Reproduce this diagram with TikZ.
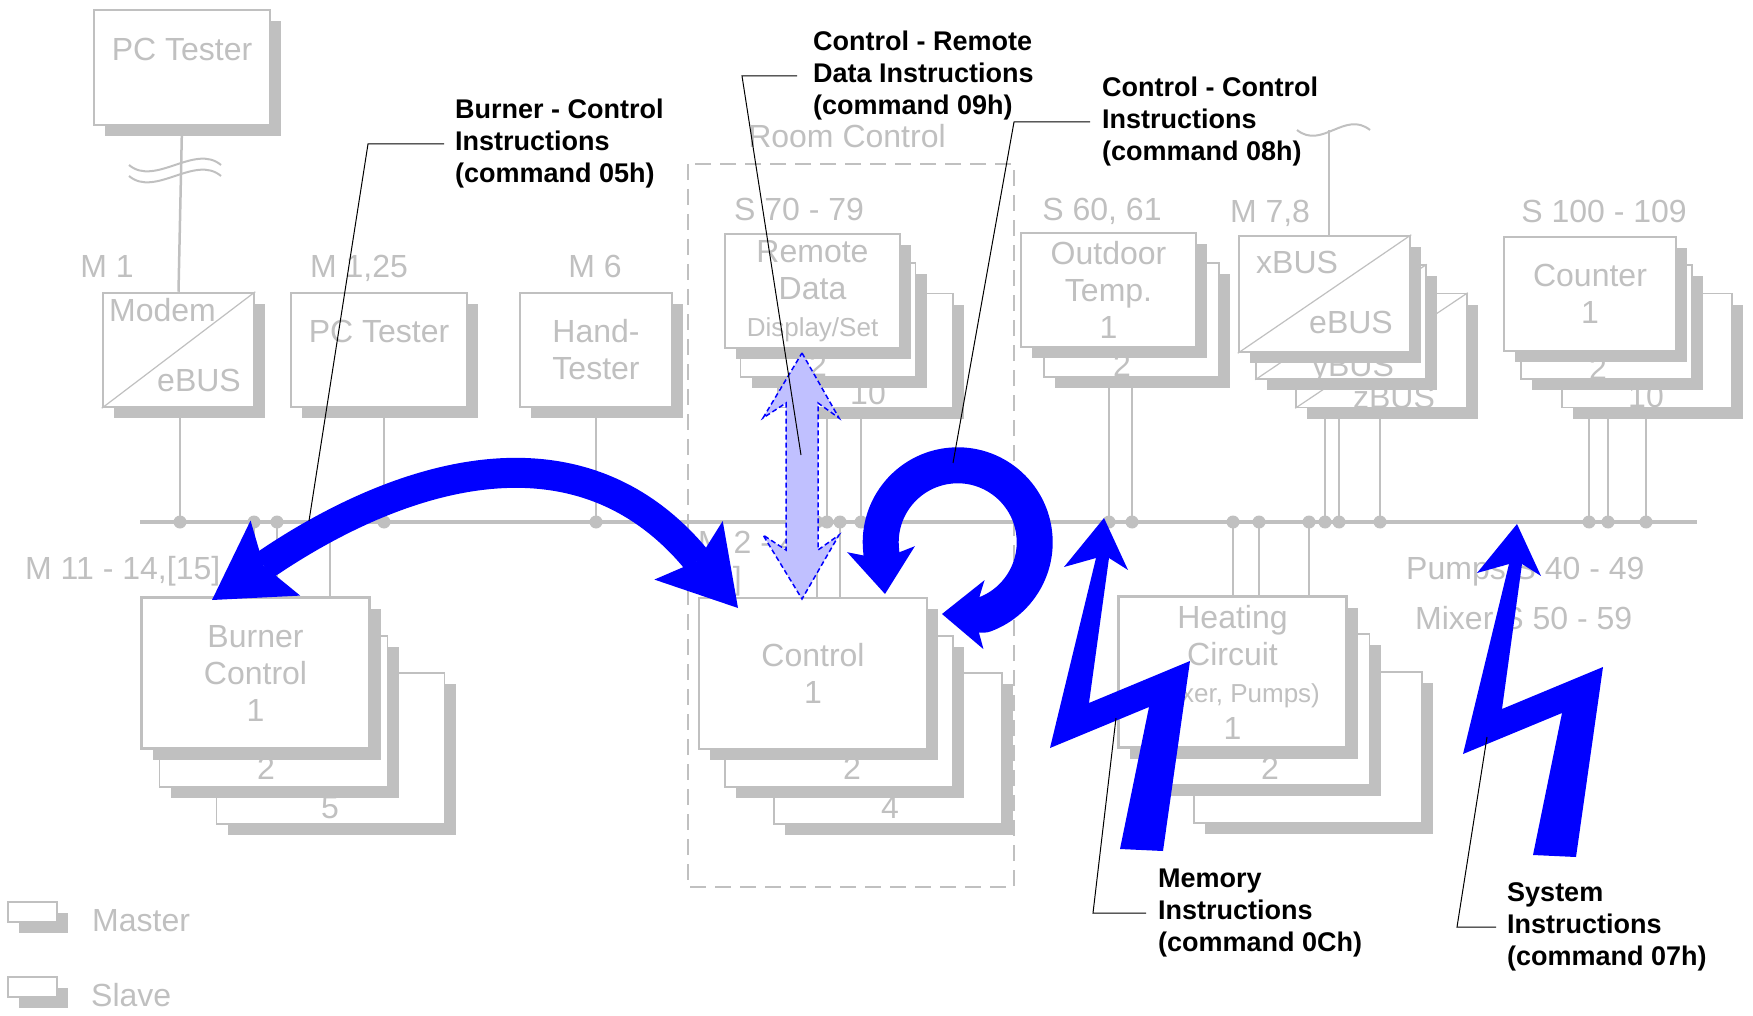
\documentclass[tikz,border=0pt]{standalone}
\usepackage{fontspec}
\setmainfont{Liberation Sans}
\usetikzlibrary{arrows.meta,shadows,backgrounds}
\definecolor{busgrey}{RGB}{192,192,192}
\definecolor{pureblue}{RGB}{0,0,255}
\definecolor{paleblue}{RGB}{192,192,255}
\newcommand\smallline{\fontsize{26}{37}\selectfont}

\begin{document}
\begin{tikzpicture}[x=1pt,y=-1pt]
    \tikzset{
        busunit/.style={draw=busgrey, line width=2.5pt, fill=white, inner sep=0pt,
            text=busgrey, align=center, font=\fontsize{32}{37}\selectfont,
            drop shadow={shadow xshift=11pt, shadow yshift=-11pt, fill=busgrey, opacity=1}},
        topunit/.style={busunit, minimum width=175pt, minimum height=114pt},
        lowunit/.style={busunit, minimum width=228pt, minimum height=151pt},
        thinframe/.style={line width=1.5pt},
        greytext/.style={text=busgrey, inner sep=0pt, font=\fontsize{32}{37}\selectfont},
        diag/.style={draw=busgrey, line width=1.2pt},
        tap/.style={draw=busgrey, line width=2.5pt},
        wave/.style={draw=busgrey, line width=2pt},
        roombox/.style={draw=busgrey, line width=2.5pt, dash pattern=on 16pt off 9pt},
        note/.style={align=left, inner sep=0pt, font=\fontsize{27}{32}\selectfont\bfseries},
        leader/.style={draw=black, line width=1pt},
        bigarrow/.style={draw=pureblue, line width=30pt,
            {Stealth[length=76pt,width=90pt,inset=14pt,line width=0pt]}-{Stealth[length=76pt,width=90pt,inset=14pt,line width=0pt]}},
        ringarrow/.style={draw=pureblue, line width=36pt, line join=round,
            {Stealth[length=45pt,width=68pt,inset=10pt,line width=0pt]}-{Stealth[length=42pt,width=69pt,inset=10pt,line width=0pt]}},
        ghost/.style={draw=pureblue, fill=paleblue, line width=1.5pt, dash pattern=on 5pt off 3pt},
        bolt/.style={fill=pureblue}
    }
    \useasboundingbox (0,0) rectangle (1753,1016);

    % top row
    \node[topunit, minimum width=176pt, minimum height=115pt] (pctop) at (182,67.5) {PC Tester\\\mbox{}};
    \node[topunit, minimum width=151pt] (modem) at (178.5,350) {};
    \draw[diag] (modem.south west) -- (modem.north east);
    \node[greytext, anchor=base west] (modemtop) at (109,321) {Modem};
    \node[greytext, anchor=base east] (modembus) at (241,391) {eBUS};
    \node[topunit, minimum width=176pt] (pcbus) at (379,350) {PC Tester\\\mbox{}};
    \node[topunit, minimum width=152pt] (hand) at (596,350) {Hand-\\Tester};

    \node[topunit, thinframe] (remote3) at (865.5,350.5) {};
    \node[greytext, anchor=base] (remote3no) at (868,404) {10};
    \node[topunit, thinframe] (remote2) at (828,320) {};
    \node[greytext, anchor=base] (remote2no) at (818,376) {2};
    \node[topunit] (remote1) at (812.5,291) {Remote\\Data\\{\smallline Display/Set}};

    \node[topunit, thinframe] (outdoor2) at (1131.5,320) {};
    \node[greytext, anchor=base] (outdoor2no) at (1122,376) {2};
    \node[topunit] (outdoor1) at (1108.5,290) {Outdoor\\Temp.\\1};

    \node[topunit, thinframe, minimum width=171pt] (xbus3) at (1381.5,350.5) {};
    \draw[diag] (xbus3.south west) -- (xbus3.north east);
    \node[greytext, anchor=base] (xbus3no) at (1394,408) {zBUS};
    \node[topunit, thinframe, minimum width=170pt] (xbus2) at (1341,322) {};
    \draw[diag] (xbus2.south west) -- (xbus2.north east);
    \node[greytext, anchor=base] (xbus2no) at (1353,376) {yBUS};
    \node[topunit, minimum width=171pt, minimum height=116pt] (xbus1) at (1324.5,294) {};
    \draw[diag] (xbus1.south west) -- (xbus1.north east);
    \node[greytext, anchor=base west] (xbus1top) at (1256,273) {xBUS};
    \node[greytext, anchor=base east] (xbus1bus) at (1393,333) {eBUS};

    \node[topunit, thinframe, minimum width=170pt] (counter3) at (1647,350.5) {};
    \node[greytext, anchor=base] (counter3no) at (1646,407) {10};
    \node[topunit, thinframe, minimum width=171pt] (counter2) at (1606.5,322) {};
    \node[greytext, anchor=base] (counter2no) at (1598,379) {2};
    \node[topunit, minimum width=172pt] (counter1) at (1590,294) {Counter\\1};

    % lower row
    \node[lowunit, thinframe] (burner3) at (330.5,748.5) {};
    \node[greytext, anchor=base] (burner3no) at (330,818) {5};
    \node[lowunit, thinframe] (burner2) at (273.5,711.5) {};
    \node[greytext, anchor=base] (burner2no) at (266,779) {2};
    \node[lowunit] (burner1) at (255.5,673) {Burner\\Control\\1};

    \node[lowunit, thinframe] (control3) at (888,748.5) {};
    \node[greytext, anchor=base] (control3no) at (890,818) {4};
    \node[lowunit, thinframe] (control2) at (839,711.5) {};
    \node[greytext, anchor=base] (control2no) at (852,779) {2};
    \node[lowunit] (control1) at (813,673.5) {Control\\1};

    \node[lowunit, thinframe] (heating3) at (1308,747.5) {};
    \node[lowunit, thinframe] (heating2) at (1255.5,709.5) {};
    \node[greytext, anchor=base] (heating2no) at (1270,779) {2};
    \node[lowunit] (heating1) at (1232.5,672) {Heating\\Circuit\\{\smallline (Mixer, Pumps)}\\1};

    % addresses
    \node[greytext, anchor=base] (addrmodem) at (107,278) {M 1};
    \node[greytext, anchor=base] (addrpc) at (359,278) {M 1,25};
    \node[greytext, anchor=base] (addrhand) at (595,278) {M 6};
    \node[greytext, anchor=base] (addrremote) at (799,221) {S 70 - 79};
    \node[greytext, anchor=base] (addroutdoor) at (1102,221) {S 60, 61};
    \node[greytext, anchor=base] (addrxbus) at (1270,223) {M 7,8};
    \node[greytext, anchor=base] (addrcounter) at (1604,223) {S 100 - 109};
    \node[greytext, anchor=base] (room) at (847,148) {Room Control};
    \node[greytext, anchor=base west] (addrburner) at (25,579) {M 11 - 14,[15]};
    \node[greytext, anchor=base west] (addrcontrol) at (698,553) {M 2 - 4,};
    \node[greytext, anchor=base east] (addrcontrolb) at (742,589) {[1]};
    \node[greytext, anchor=base west] (addrpumps) at (1406,579) {Pumps S 40 - 49};
    \node[greytext, anchor=base west] (addrmixer) at (1415,629) {Mixer S 50 - 59};

    % key
    \node[busunit, line width=2pt, minimum width=49pt, minimum height=20pt] (keymaster) at (32.5,912) {};
    \node[greytext, anchor=base west] (keymastertext) at (92,931) {Master};
    \node[busunit, line width=2pt, minimum width=49pt, minimum height=20pt] (keyslave) at (32.5,987) {};
    \node[greytext, anchor=base west] (keyslavetext) at (91,1006) {Slave};

    % bus and taps, behind the units
    \begin{scope}[on background layer]
        \coordinate (busL) at (140,522);
        \coordinate (busR) at (1697,522);
        \draw[roombox] (688,164) rectangle (1014,887);
        \draw[tap] (pctop.south) -- (modem.north);
        \draw[wave] (129,165) .. controls (155,187) and (195,143) .. (221,165);
        \draw[wave] (129,176) .. controls (155,198) and (195,154) .. (221,176);
        \draw[tap] (1329,130) -- (1329,300);
        \draw[wave] (1297,130) .. controls (1322,150) and (1345,110) .. (1370,130);
        \draw[tap, line width=3.5pt] (busL) -- (busR);
        \foreach \t in {180,384,596,827,861,1109,1132,1325,1339,1380,1589,1608,1646}
            \draw[tap] (\t,522) -- (\t,380);
        \foreach \t in {254,277,330,817,840,1233,1259,1309}
            \draw[tap] (\t,522) -- (\t,630);
        \foreach \t in {180,254,277,330,384,596,817,827,840,861,1109,1132,1233,1259,1309,1325,1339,1380,1589,1608,1646}
            \fill[busgrey] (\t,522) circle[radius=6.5pt];
    \end{scope}

    % instructions
    \draw[bigarrow] (212,600) -- (277,557) .. controls (398,478) and (571,418) .. (690,552) -- (738,608);
    \draw[ringarrow] (885,594) -- (881,549) arc[start angle=175, end angle=430, radius=77] -- (942,614);
    \draw[ghost] (802,353) -- (839,418) -- (818,403) -- (818,550) -- (839,535) -- (802,599)
        -- (763,535) -- (786,550) -- (786,403) -- (763,418) -- cycle;
    \foreach \bx/\by in {1104/518,1517/524}
        \fill[bolt, shift={(\bx,\by)}] (0,0) -- (24,52) -- (5,40) -- (-15,185) -- (86,143)
            -- (59,333) -- (16,331) -- (45,189) -- (-54,230) -- (-8,40) -- (-40,49) -- cycle;

    % labels
    \node[note, anchor=west] (burnerctl) at (455,144) {Burner - Control\\Instructions\\(command 05h)};
    \draw[leader] ([xshift=-11pt]burnerctl.west) -- ++(-76,0) -- (309,521);
    \node[note, anchor=west] (ctlremote) at (813,76) {Control - Remote\\Data Instructions\\(command 09h)};
    \draw[leader] ([xshift=-16pt]ctlremote.west) -- ++(-55,0) -- (801,455);
    \node[note, anchor=west] (ctlctl) at (1102,122) {Control - Control\\Instructions\\(command 08h)};
    \draw[leader] ([xshift=-12pt]ctlctl.west) -- ++(-76,0) -- (953,463);
    \node[note, anchor=west] (memory) at (1158,913) {Memory\\Instructions\\(command 0Ch)};
    \draw[leader] ([xshift=-12pt]memory.west) -- ++(-53,0) -- (1116,718);
    \node[note, anchor=west] (system) at (1507,927) {System\\Instructions\\(command 07h)};
    \draw[leader] ([xshift=-11pt]system.west) -- ++(-39,0) -- (1487,737);
\end{tikzpicture}
\end{document}
